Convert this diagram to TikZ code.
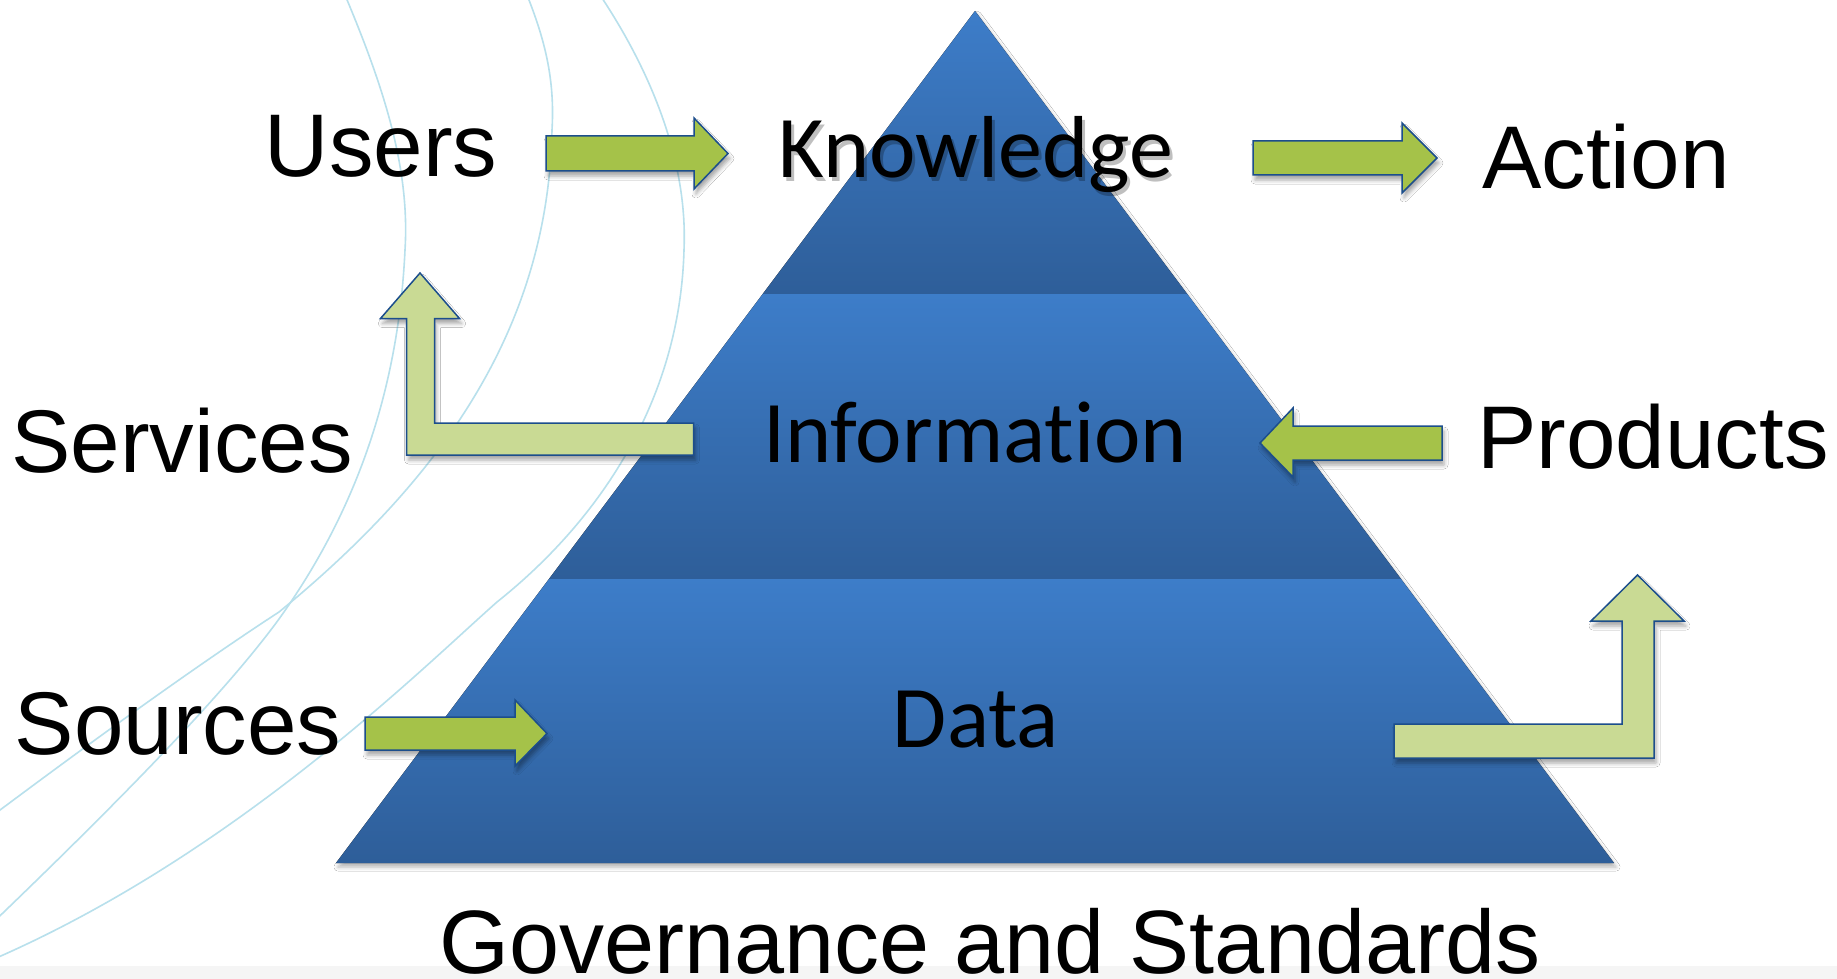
\documentclass[tikz,border=0pt]{standalone}
\usepackage{fontspec}
\setmainfont{Liberation Sans}
\newfontfamily\calibri[Ligatures=NoCommon]{Carlito}
\usetikzlibrary{shadows.blur}

\definecolor{arcblue}{RGB}{184,224,236}
\definecolor{pyrtop}{RGB}{61,125,201}
\definecolor{pyrbot}{RGB}{46,94,153}
\definecolor{arrowgreen}{RGB}{165,194,73}
\definecolor{arrowpale}{RGB}{201,218,148}
\definecolor{arrowline}{RGB}{28,78,140}

\begin{document}
\begin{tikzpicture}[x=1pt,y=-1pt,
    every node/.style={inner sep=0pt,anchor=base},
    sidetext/.style={font=\fontsize{89}{100}\selectfont},
    tiertext/.style={font=\calibri\fontsize{88}{100}\selectfont},
    tier/.style={top color=pyrtop,bottom color=pyrbot},
    arcline/.style={draw=arcblue,line width=1.6pt},
    flatarrow/.style={fill=arrowgreen,draw=arrowline,line width=1.5pt,
        blur shadow={shadow xshift=2pt,shadow yshift=-5pt,shadow blur radius=4pt,shadow opacity=35}},
    bentarrow/.style={flatarrow,fill=arrowpale}]
    \useasboundingbox (0,0) rectangle (1837,979);
    \clip (0,0) rectangle (1837,979);
    \fill[white] (0,0) rectangle (1837,979);
    \fill[gray!8] (0,966) rectangle (1837,979);

    % background swirls
    \draw[arcline] (345,-5) .. controls (385,90) and (410,170) .. (405,250)
        .. controls (398,400) and (350,520) .. (279,619)
        .. controls (220,700) and (100,820) .. (-20,935);
    \draw[arcline] (527,-5) .. controls (545,40) and (555,80) .. (552,130)
        .. controls (548,330) and (440,480) .. (279,612)
        .. controls (190,670) and (80,750) .. (-20,825);
    \draw[arcline] (600,-5) .. controls (650,70) and (688,160) .. (684,250)
        .. controls (680,400) and (600,520) .. (497,602)
        .. controls (420,670) and (230,860) .. (-20,965);

    % pyramid
    \fill[white,blur shadow={shadow xshift=2pt,shadow yshift=-4pt,shadow blur radius=4pt,shadow opacity=30}]
        (975,11) -- (1614,863) -- (336,863) -- cycle;
    \fill[tier] (975,11) -- (1187.2,294) -- (762.8,294) -- cycle;
    \fill[tier] (762.8,294) -- (1187.2,294) -- (1401,579) -- (549,579) -- cycle;
    \fill[tier] (549,579) -- (1401,579) -- (1614,863) -- (336,863) -- cycle;

    % arrows
    \draw[flatarrow] (546,136) -- (694,136) -- (694,118) -- (728,153.5) -- (694,189) -- (694,171) -- (546,171) -- cycle;
    \draw[flatarrow] (1253,141) -- (1402,141) -- (1402,123) -- (1437,158) -- (1402,193) -- (1402,175) -- (1253,175) -- cycle;
    \draw[flatarrow] (1442,426) -- (1293,426) -- (1293,408) -- (1260,443) -- (1293,477) -- (1293,460) -- (1442,460) -- cycle;
    \draw[flatarrow] (365,717) -- (515,717) -- (515,700) -- (547,733.5) -- (515,766) -- (515,750) -- (365,750) -- cycle;
    \draw[bentarrow] (693.6,423) -- (434.6,423) -- (434.6,318.5) -- (459.5,318.5) -- (420,273) -- (380.5,318.5) -- (406.5,318.5) -- (406.5,455) -- (693.6,455) -- cycle;
    \draw[bentarrow] (1394,724) -- (1622,724) -- (1622,621) -- (1591,621) -- (1637.5,575) -- (1684,621) -- (1654,621) -- (1654,758) -- (1394,758) -- cycle;

    % labels
    \node[sidetext] (users) at (381,177) {Users};
    \node[sidetext] (action) at (1606,189) {Action};
    \node[sidetext] (services) at (182,472) {Services};
    \node[sidetext] (products) at (1653,468) {Products};
    \node[sidetext] (sources) at (178,754) {Sources};
    \node[sidetext,font=\fontsize{90}{100}\selectfont] (governance) at (990,973) {Governance and Standards};

    \node[tiertext,opacity=.25] at (979,182) {Knowledge};
    \node[tiertext] (knowledge) at (976,178) {Knowledge};
    \node[tiertext] (information) at (975,462) {Information};
    \node[tiertext] (data) at (976,747) {Data};
\end{tikzpicture}
\end{document}
